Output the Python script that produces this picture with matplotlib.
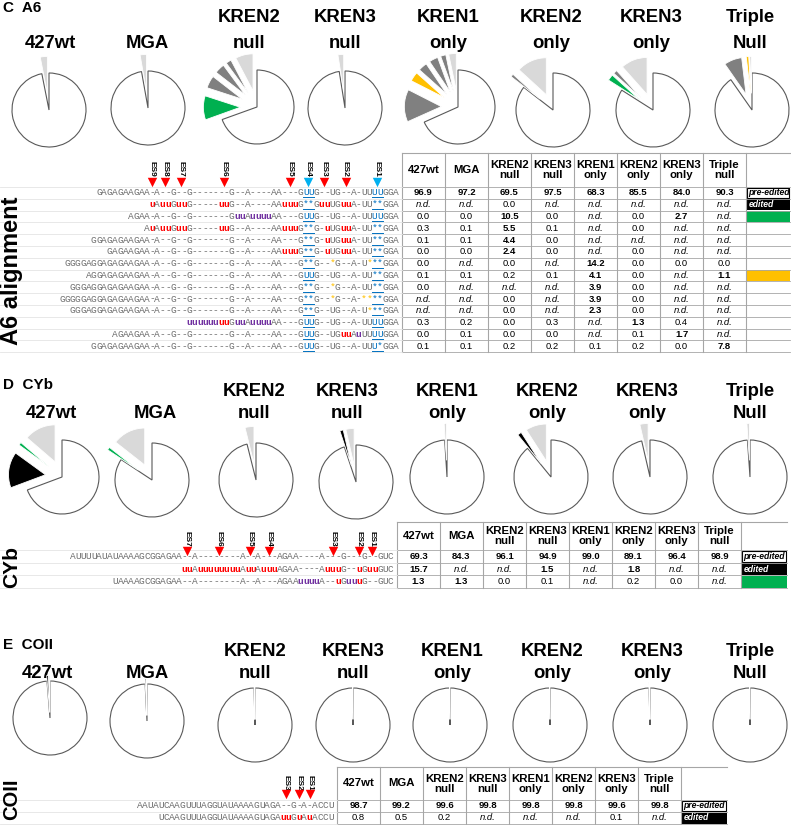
import matplotlib
matplotlib.use('Agg')
import matplotlib.pyplot as plt
from matplotlib.patches import Rectangle

plt.rcParams['font.family'] = ['Liberation Sans', 'DejaVu Sans']

W, H = 791, 825

# --------------- data ---------------
strains = ['427wt', 'MGA', 'KREN2\nnull', 'KREN3\nnull', 'KREN1\nonly',
           'KREN2\nonly', 'KREN3\nonly', 'Triple\nnull']
pie_titles = ['427wt', 'MGA', 'KREN2\nnull', 'KREN3\nnull', 'KREN1\nonly',
              'KREN2\nonly', 'KREN3\nonly', 'Triple\nNull']

# sequence code: u red insertion, v purple insertion, W underlined U,
# * underlined deletion, + yellow deletion
a6_seqs = [
    "GAGAGAAGAA-A--G--G-------G--A----AA---GWWG--UG--A-UUWWGGA",
    "uAuuGuuG-----uuG--A----AAuuuG**GuuUGuuA-UU**GGA",
    "AGAA-A--G--G-------GvvAvvvvAA---GWWG--UG--A-UUWWGGA",
    "AuAuuGuuG-----uuG--A----AAuuuG**G-uUGuuA-UU**GGA",
    "GGAGAGAAGAA-A--G--G-------G--A----AA---G**G-uUGuuA-UU**GGA",
    "GAGAAGAA-A--G--G-------G--A----AAuuuG**G-uUGuuA-UU**GGA",
    "GGGGAGGAGAGAAGAA-A--G--G-------G--A----AA---G**G--+G--A-U+**GGA",
    "AGGAGAGAAGAA-A--G--G-------G--A----AA---GWWG--UG--A-UU**GGA",
    "GGGAGGAGAGAAGAA-A--G--G-------G--A----AA---G**G--+G--A-UU**GGA",
    "GGGGGAGGAGAGAAGAA-A--G--G-------G--A----AA---G**G--+G--A-++**GGA",
    "GGGAGGAGAGAAGAA-A--G--G-------G--A----AA---G**G--UG--A-U+**GGA",
    "vvvvvvuuGvvAvvvvAA---GWWG--UG--A-UUWWGGA",
    "AGAAGAA-A--G--G-------G--A----AA---GWWG--UGuuAvUUWWGGA",
    "GGAGAGAAGAA-A--G--G-------G--A----AA---GWWG--UG--A-UUW*GGA",
]
# '*' prefix = bold value
a6_values = [
    ['*96.9', '*97.2', '*69.5', '*97.5', '*68.3', '*85.5', '*84.0', '*90.3'],
    ['n.d.', 'n.d.', '0.0', 'n.d.', 'n.d.', 'n.d.', 'n.d.', 'n.d.'],
    ['0.0', '0.0', '*10.5', '0.0', 'n.d.', '0.0', '*2.7', 'n.d.'],
    ['0.3', '0.1', '*5.5', '0.1', 'n.d.', '0.0', 'n.d.', 'n.d.'],
    ['0.1', '0.1', '*4.4', '0.0', 'n.d.', 'n.d.', 'n.d.', 'n.d.'],
    ['0.0', '0.0', '*2.4', '0.0', 'n.d.', '0.0', 'n.d.', 'n.d.'],
    ['0.0', 'n.d.', '0.0', 'n.d.', '*14.2', '0.0', '0.0', '0.0'],
    ['0.1', '0.1', '0.2', '0.1', '*4.1', '0.0', 'n.d.', '*1.1'],
    ['0.0', 'n.d.', 'n.d.', 'n.d.', '*3.9', '0.0', 'n.d.', 'n.d.'],
    ['n.d.', 'n.d.', '0.0', 'n.d.', '*3.9', '0.0', 'n.d.', 'n.d.'],
    ['n.d.', 'n.d.', '0.0', 'n.d.', '*2.3', '0.0', 'n.d.', 'n.d.'],
    ['0.3', '0.2', '0.0', '0.3', 'n.d.', '*1.3', '0.4', 'n.d.'],
    ['0.0', '0.1', '0.0', '0.0', 'n.d.', '0.1', '*1.7', 'n.d.'],
    ['0.1', '0.1', '0.2', '0.2', '0.1', '0.2', '0.0', '*7.8'],
]
a6_kinds = ['pre', 'edited', 'green', 'minor', 'minor', 'minor', 'minor',
            'yellow', 'minor', 'minor', 'minor', 'minor', 'minor', 'minor']
a6_sites = ['ES9', 'ES8', 'ES7', 'ES6', 'ES5', 'ES4', 'ES3', 'ES2', 'ES1']
a6_site_cols = [46, 43.5, 40.5, 32.5, 20, 16.5, 13.5, 9.5, 3.5]   # column counted from 3' end
a6_blue_sites = ['ES4', 'ES1']

cyb_seqs = [
    "AUUUUAUAUAAAAGCGGAGAA--A--------A--A---AGAA----A---G---G--GUC",
    "uuAuuuuuuuuAuuAuuuAGAA----AuuuG--uGuuGUC",
    "UAAAAGCGGAGAA--A--------A--A---AGAAvvvvA--uGvvuG--GUC",
]
cyb_values = [
    ['*69.3', '*84.3', '*96.1', '*94.9', '*99.0', '*89.1', '*96.4', '*98.9'],
    ['*15.7', 'n.d.', 'n.d.', '*1.5', 'n.d.', '*1.8', 'n.d.', 'n.d.'],
    ['*1.3', '*1.3', '0.0', '0.1', 'n.d.', '0.2', '0.0', 'n.d.'],
]
cyb_kinds = ['pre', 'edited', 'green']
cyb_sites = ['ES7', 'ES6', 'ES5', 'ES4', 'ES3', 'ES2', 'ES1']
cyb_site_cols = [38.5, 32.5, 26.5, 23, 11, 6, 3.5]

coii_seqs = [
    "AAUAUCAAGUUUAGGUAUAAAAGUAGA--G-A-ACCU",
    "UCAAGUUUAGGUAUAAAAGUAGAuuGuAuACCU",
]
coii_values = [
    ['*98.7', '*99.2', '*99.6', '*99.8', '*99.8', '*99.8', '*99.6', '*99.8'],
    ['0.8', '0.5', '0.2', 'n.d.', 'n.d.', 'n.d.', '0.1', 'n.d.'],
]
coii_kinds = ['pre', 'edited']
coii_sites = ['ES3', 'ES2', 'ES1']
coii_site_cols = [8.5, 6, 4]

# --------------- styles ---------------
KIND_COLORS = {'pre': '#ffffff', 'edited': '#000000', 'green': '#00b050',
               'yellow': '#ffc000', 'minor': '#808080', 'other': '#d9d9d9'}
SEQ_COLORS = {'u': '#ff0000', 'v': '#7030a0', 'W': '#0070c0', '*': '#0070c0', '+': '#ffc000'}
SHOW = {'v': 'u', 'W': 'U', '+': '*'}
GRID = '#a6a6a6'
CW = 5.3     # px per alignment column
SEQ_FS = 6.8


def num(s):
    s = s.lstrip('*')
    return None if s == 'n.d.' else float(s)


def pie_slices(values, kinds, col):
    pre = num(values[0][col])
    extra = []
    for r in range(1, len(values)):
        v = num(values[r][col])
        if not v:
            continue
        if values[r][col].startswith('*') or kinds[r] == 'edited':
            extra.append((v, kinds[r]))
    extra.sort(key=lambda t: -t[0])
    sl = [(pre, 'pre')] + extra
    rest = 100 - sum(v for v, k in sl)
    if rest > 0.05:
        sl.append((rest, 'other'))
    return sl


def draw_pies(fig, centers, r, values, kinds, expl=0.45):
    L = 1.55
    for j, (cx, cy) in enumerate(centers):
        sl = pie_slices(values, kinds, j)
        pax = fig.add_axes([(cx - L * r) / W, 1 - (cy + L * r) / H, 2 * L * r / W, 2 * L * r / H])
        wedges, _ = pax.pie([v for v, k in sl], colors=[KIND_COLORS[k] for v, k in sl],
                            explode=[0 if k == 'pre' else expl for v, k in sl],
                            startangle=90, counterclock=False,
                            wedgeprops=dict(linewidth=0.6, edgecolor='white'))
        wedges[0].set_edgecolor('#595959')
        wedges[0].set_linewidth(0.8)
        pax.set_xlim(-L, L)
        pax.set_ylim(-L, L)


def draw_titles(ax, xs, y1, y2):
    for x, t in zip(xs, pie_titles):
        lines = t.split('\n')
        if len(lines) == 2:
            ax.text(x, y1, lines[0], ha='center', va='center', fontsize=13.3, fontweight='bold')
        ax.text(x, y2, lines[-1], ha='center', va='center', fontsize=13.3, fontweight='bold')


def draw_seq(ax, seq, x_right, y):
    n = len(seq)
    for k, ch in enumerate(seq):
        xc = x_right - (n - k - 0.5) * CW
        col = SEQ_COLORS.get(ch, '#6e6e6e')
        bold = ch in 'uv'
        ax.text(xc, y, SHOW.get(ch, ch), ha='center', va='center', fontsize=SEQ_FS,
                family='Liberation Mono', color=col, fontweight='bold' if bold else 'normal')
        if ch in 'W*':
            ax.plot([xc - CW / 2, xc + CW / 2], [y + 4.4, y + 4.4], color='#0070c0', lw=0.7)


def draw_sites(ax, names, cols, x_right, y_arrow, y_label, blue=()):
    for name, c in zip(names, cols):
        x = x_right - (c + 0.5) * CW
        col = '#00b0f0' if name in blue else '#ff0000'
        ax.scatter([x], [y_arrow], marker='v', s=46, color=col, linewidths=0, zorder=5)
        ax.text(x, y_label, name, rotation=-90, ha='center', va='center',
                fontsize=6, fontweight='bold')


def draw_table(ax, seqs, values, kinds, x_seq, x0, y0, hh, rh, cw, lab_w):
    ncol = len(strains)
    nrow = len(values)
    x_end = x0 + ncol * cw
    y_end = y0 + hh + nrow * rh
    for k in range(ncol + 1):
        ax.plot([x0 + k * cw] * 2, [y0, y_end], color=GRID, lw=0.8)
    ax.plot([x0, x_end + lab_w], [y0, y0], color=GRID, lw=0.8)
    for r in range(nrow + 1):
        yy = y0 + hh + r * rh
        ax.plot([x0, x_end + lab_w], [yy, yy], color=GRID, lw=0.6)
        ax.plot([0, x0], [yy, yy], color='#e4e4e4', lw=0.6)
    for j, s in enumerate(strains):
        ax.text(x0 + (j + 0.5) * cw, y0 + hh / 2, s, ha='center', va='center',
                fontsize=8.2, fontweight='bold', linespacing=1.0)
    for r, row in enumerate(values):
        yc = y0 + hh + (r + 0.5) * rh
        for j, s in enumerate(row):
            ax.text(x0 + (j + 0.5) * cw, yc, s.lstrip('*'), ha='center', va='center',
                    fontsize=6.8, fontweight='bold' if s.startswith('*') else 'normal',
                    style='italic' if s == 'n.d.' else 'normal')
        draw_seq(ax, seqs[r], x_seq, yc)
        kind = kinds[r]
        ry = y0 + hh + r * rh
        if kind == 'pre':
            ax.add_patch(Rectangle((x_end + 1, ry + 1), lab_w - 2, rh - 2, facecolor='white',
                                   edgecolor='black', lw=0.8))
            ax.text(x_end + 2.5, yc, 'pre-edited', ha='left', va='center', fontsize=6.2,
                    style='italic', fontweight='bold')
        elif kind == 'edited':
            ax.add_patch(Rectangle((x_end + 1, ry + 0.5), lab_w - 1, rh - 1, facecolor='black', lw=0))
            ax.text(x_end + 2.5, yc, 'edited', ha='left', va='center', fontsize=6.2,
                    style='italic', fontweight='bold', color='white')
        elif kind in ('green', 'yellow'):
            ax.add_patch(Rectangle((x_end + 1, ry + 0.5), lab_w - 1, rh - 1,
                                   facecolor=KIND_COLORS[kind], lw=0))


fig = plt.figure(figsize=(W / 100, H / 100), dpi=100)
ax = fig.add_axes([0, 0, 1, 1])
ax.set_xlim(0, W)
ax.set_ylim(H, 0)
ax.axis('off')

# ------- C: A6 -------
ax.text(3, 8, 'C  A6', ha='left', va='center', fontsize=11, fontweight='bold')
draw_titles(ax, [50, 147, 249, 345, 448, 551, 651, 750], 18, 43)
draw_pies(fig, [(49, 110), (148, 108), (257, 107), (345, 108), (458, 107), (553, 110),
                (653, 110), (752, 110)], 37, a6_values, a6_kinds)
draw_table(ax, a6_seqs, a6_values, a6_kinds, 398.5, 402, 153, 34, 11.8, 43, 44)
draw_sites(ax, a6_sites, a6_site_cols, 398.5, 182, 169, a6_blue_sites)
ax.text(12, 271, 'A6 alignment', rotation=90, ha='center', va='center', fontsize=17, fontweight='bold')

# ------- D: CYb -------
ax.text(3, 385, 'D  CYb', ha='left', va='center', fontsize=11, fontweight='bold')
draw_titles(ax, [51, 155, 254, 347, 447, 547, 647, 750], 391, 413)
draw_pies(fig, [(62, 477), (152, 480), (256, 480), (356, 482), (447, 477), (551, 477),
                (650, 477), (750, 477)], 37, cyb_values, cyb_kinds)
draw_table(ax, cyb_seqs, cyb_values, cyb_kinds, 393.5, 397, 522, 28, 12.7, 43, 46)
draw_sites(ax, cyb_sites, cyb_site_cols, 393.5, 551, 539)
ax.text(12, 567, 'CYb', rotation=90, ha='center', va='center', fontsize=15, fontweight='bold')

# ------- E: COII -------
ax.text(3, 645, 'E  COII', ha='left', va='center', fontsize=11, fontweight='bold')
draw_titles(ax, [47, 147, 255, 353, 452, 552, 652, 750], 651, 673)
draw_pies(fig, [(50, 718), (147, 721), (255, 725), (353, 725), (450, 725), (550, 725),
                (650, 725), (750, 725)], 37, coii_values, coii_kinds, expl=0.15)
draw_table(ax, coii_seqs, coii_values, coii_kinds, 333.5, 337, 767, 33, 12, 43, 46)
draw_sites(ax, coii_sites, coii_site_cols, 333.5, 794, 783)
ax.text(12, 799, 'COII', rotation=90, ha='center', va='center', fontsize=14.5, fontweight='bold')

fig.savefig('out.png', dpi=100)
